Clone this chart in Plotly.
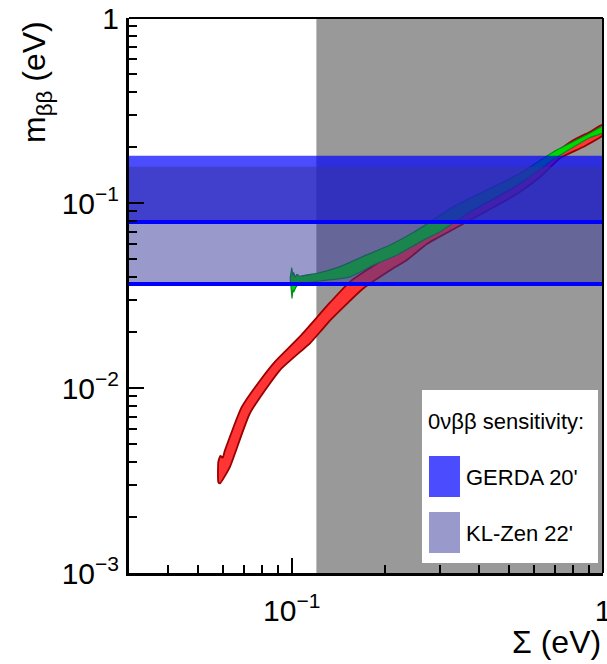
import math
import plotly.graph_objects as go

# ---------------- data ----------------
x_range = [0.03, 1.0]          # Sigma (eV)
y_range = [1e-3, 1.0]          # m_bb (eV)
sigma_excluded_from = 0.12     # cosmology-excluded region (grey)

x_tickvals = [0.1, 1.0]
x_ticktext = ["10<sup>−1</sup>", "1"]
y_tickvals = [0.001, 0.01, 0.1, 1.0]
y_ticktext = ["10<sup>−3</sup>", "10<sup>−2</sup>", "10<sup>−1</sup>", "1"]

# Normal ordering band (red): upper and lower edges
no_upper_sum = [0.0581, 0.0590, 0.0600, 0.0610, 0.0691, 0.0801, 0.0884, 0.1063, 0.1328,
                0.154, 0.192, 0.2285, 0.265, 0.323, 0.3745, 0.542, 0.694, 0.804, 0.910, 1.0]
no_upper_mbb = [0.0040, 0.0043, 0.0042, 0.0046, 0.0079, 0.0113, 0.0139, 0.0190, 0.0290,
                0.0376, 0.0482, 0.0557, 0.0650, 0.0780, 0.0900, 0.1280, 0.1830, 0.2190, 0.2428, 0.2650]
no_lower_sum = [0.0581, 0.0588, 0.0633, 0.0734, 0.0917, 0.1146, 0.1249, 0.1328, 0.170,
                0.212, 0.2344, 0.2716, 0.2925, 0.3745, 0.479, 0.542, 0.629, 0.729, 0.866, 1.0]
no_lower_mbb = [0.0031, 0.00305, 0.00375, 0.0073, 0.0125, 0.0175, 0.0206, 0.0232, 0.0346,
                0.0444, 0.0492, 0.0600, 0.0645, 0.0809, 0.1016, 0.1151, 0.1387, 0.1750, 0.2014, 0.2330]

# Inverted ordering band (green): upper and lower edges
io_upper_sum = [0.099, 0.0995, 0.1, 0.1008, 0.1015, 0.1025, 0.104, 0.106, 0.113, 0.120,
                0.143, 0.174, 0.207, 0.245, 0.275, 0.331, 0.424, 0.542, 0.694, 0.804, 0.910, 1.0]
io_upper_mbb = [0.0400, 0.0420, 0.0446, 0.0405, 0.0420, 0.0398, 0.0412, 0.0402, 0.0410, 0.0416,
                0.0453, 0.0524, 0.0593, 0.0690, 0.0780, 0.0955, 0.1176, 0.1447, 0.1893, 0.2150, 0.2390, 0.2600]
io_lower_sum = [0.099, 0.0995, 0.1002, 0.1008, 0.1015, 0.103, 0.105, 0.108, 0.130, 0.154,
                0.183, 0.218, 0.265, 0.300, 0.3745, 0.542, 0.694, 0.804, 0.910, 1.0]
io_lower_mbb = [0.0380, 0.0350, 0.0305, 0.0340, 0.0330, 0.0350, 0.0362, 0.0368, 0.0383, 0.0399,
                0.0462, 0.0524, 0.0630, 0.0700, 0.0897, 0.1278, 0.1720, 0.2010, 0.2260, 0.2400]

# 0vbb sensitivity bands
exp_names = ["GERDA 20'", "KL-Zen 22'"]
exp_low = [0.079, 0.0365]
exp_high = [0.18, 0.157]

# ---------------- styles ----------------
FONT = "Liberation Sans, Arial, Helvetica, sans-serif"
exp_fill = ["rgba(0,0,255,0.7)", "rgba(51,51,153,0.5)"]
exp_line = "#0000ff"

fig = go.Figure()

# grey excluded region
fig.add_trace(go.Scatter(
    x=[sigma_excluded_from, x_range[1], x_range[1], sigma_excluded_from, sigma_excluded_from],
    y=[y_range[0], y_range[0], y_range[1], y_range[1], y_range[0]],
    fill="toself", fillcolor="#999999", line=dict(width=0), mode="lines",
    hoverinfo="skip", showlegend=False))

def band(xu, yu, xl, yl, fill, line, lw):
    return go.Scatter(
        x=list(xu) + list(reversed(xl)) + [xu[0]],
        y=list(yu) + list(reversed(yl)) + [yu[0]],
        fill="toself", fillcolor=fill, mode="lines",
        line=dict(color=line, width=lw, shape="spline", smoothing=0.5),
        hoverinfo="skip", showlegend=False)

fig.add_trace(band(no_upper_sum, no_upper_mbb, no_lower_sum, no_lower_mbb, "#ff3535", "#9a0000", 1.8))
fig.add_trace(band(io_upper_sum, io_upper_mbb, io_lower_sum, io_lower_mbb, "#00d800", "#008a20", 1.2))

# sensitivity bands
for lo, hi, col in zip(exp_low, exp_high, exp_fill):
    fig.add_trace(go.Scatter(
        x=[x_range[0], x_range[1], x_range[1], x_range[0], x_range[0]],
        y=[lo, lo, hi, hi, lo],
        fill="toself", fillcolor=col, line=dict(width=0), mode="lines",
        hoverinfo="skip", showlegend=False))
for lo in exp_low:
    fig.add_trace(go.Scatter(
        x=[x_range[0], x_range[1]], y=[lo, lo], mode="lines",
        line=dict(color=exp_line, width=4), hoverinfo="skip", showlegend=False))

def minor_vals(lo_exp, hi_exp):
    vals = []
    for e in range(lo_exp, hi_exp):
        for k in range(2, 10):
            vals.append(k * 10 ** e)
    return vals

axis_common = dict(
    type="log", showgrid=False, zeroline=False, automargin=False,
    showline=True, linecolor="black", linewidth=3,
    ticks="inside", ticklen=15, tickwidth=2, tickcolor="black",
    tickmode="array", ticklabeloverflow="allow",
    tickfont=dict(family=FONT, size=30, color="black"),
)

fig.update_xaxes(
    **axis_common,
    tickvals=x_tickvals, ticktext=x_ticktext,
    range=[math.log10(x_range[0]), math.log10(x_range[1])],
    minor=dict(ticks="inside", ticklen=8, tickwidth=2, tickcolor="black",
               tickvals=[v for v in minor_vals(-2, 0) if v > x_range[0]], showgrid=False),
    ticklabelstandoff=9,
)
fig.update_yaxes(
    **axis_common,
    tickvals=y_tickvals, ticktext=y_ticktext,
    range=[math.log10(y_range[0]), math.log10(y_range[1])],
    minor=dict(ticks="inside", ticklen=8, tickwidth=2, tickcolor="black",
               tickvals=minor_vals(-3, 0), showgrid=False),
    ticklabelstandoff=1,
)

W, H = 607, 664
L, R, T, B = 129, 4, 18, 91
pw, ph = W - L - R, H - T - B

def px_x(px):
    return (px - L) / pw

def px_y(py):
    return (H - B - py) / ph

shapes = [
    # top / right frame
    dict(type="line", xref="paper", yref="paper", x0=0, x1=1, y0=1, y1=1,
         line=dict(color="black", width=2), layer="above"),
    dict(type="line", xref="paper", yref="paper", x0=1, x1=1, y0=0, y1=1,
         line=dict(color="black", width=2), layer="above"),
    # legend box
    dict(type="rect", xref="paper", yref="paper", x0=px_x(422), x1=px_x(598),
         y0=px_y(563), y1=px_y(390), fillcolor="white", line=dict(width=0), layer="above"),
]
legend_rows = [477, 533]
for name, col, cy in zip(exp_names, exp_fill, legend_rows):
    shapes.append(dict(type="rect", xref="paper", yref="paper",
                       x0=px_x(429), x1=px_x(460), y0=px_y(cy + 20), y1=px_y(cy - 21),
                       fillcolor=col, line=dict(width=0), layer="above"))

annotations = [
    dict(text="0νββ sensitivity:", xref="paper", yref="paper", x=px_x(426), y=px_y(421),
         xanchor="left", yanchor="middle", showarrow=False,
         font=dict(family=FONT, size=22, color="black")),
    dict(text="Σ (eV)", xref="paper", yref="paper", x=px_x(603), y=px_y(662),
         xanchor="right", yanchor="bottom", showarrow=False,
         font=dict(family=FONT, size=32, color="black")),
    dict(text="m<sub>ββ</sub> (eV)", xref="paper", yref="paper", x=px_x(37), y=px_y(19),
         xanchor="center", yanchor="top", textangle=-90, showarrow=False,
         font=dict(family=FONT, size=32, color="black")),
]
for name, cy in zip(exp_names, legend_rows):
    annotations.append(dict(text=name, xref="paper", yref="paper", x=px_x(464), y=px_y(cy),
                            xanchor="left", yanchor="middle", showarrow=False,
                            font=dict(family=FONT, size=22, color="black")))

fig.update_layout(
    width=W, height=H,
    margin=dict(l=L, r=R, t=T, b=B, autoexpand=False),
    paper_bgcolor="white", plot_bgcolor="white",
    showlegend=False,
    shapes=shapes, annotations=annotations,
    font=dict(family=FONT, color="black"),
)

fig.write_html("out.html")
